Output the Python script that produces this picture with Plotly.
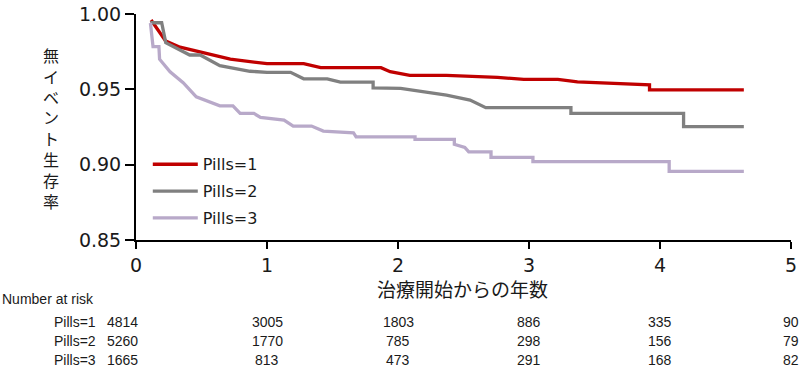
import plotly.graph_objects as go

# ---- data ----
t1 = [0.115, 0.227, 0.336, 0.49, 0.72, 1.0, 1.28, 1.41, 1.87, 1.94, 2.02, 2.09, 2.37, 2.76, 2.96, 3.22, 3.37, 3.92, 3.92, 4.64]
s1 = [0.996, 0.982, 0.978, 0.9746, 0.970, 0.967, 0.967, 0.9644, 0.9644, 0.9617, 0.9606, 0.9593, 0.9593, 0.958, 0.9566, 0.9566, 0.955, 0.953, 0.9497, 0.9497]

t2 = [0.11, 0.196, 0.227, 0.41, 0.49, 0.64, 0.87, 1.0, 1.18, 1.28, 1.46, 1.56, 1.81, 1.81, 2.02, 2.37, 2.55, 2.67, 3.32, 3.32, 4.18, 4.18, 4.64]
s2 = [0.9942, 0.9942, 0.981, 0.9728, 0.9728, 0.9657, 0.962, 0.9613, 0.9613, 0.957, 0.957, 0.9548, 0.9548, 0.951, 0.9506, 0.9462, 0.9429, 0.9378, 0.9378, 0.934, 0.934, 0.9252, 0.9252]

t3 = [0.11, 0.13, 0.175, 0.18, 0.26, 0.36, 0.46, 0.59, 0.64, 0.74, 0.795, 0.9, 0.95, 1.13, 1.2, 1.34, 1.43, 1.66, 1.68,
      2.13, 2.13, 2.43, 2.43, 2.51, 2.54, 2.71, 2.71, 3.03, 3.03, 4.07, 4.07, 4.64]
s3 = [0.994, 0.9783, 0.9783, 0.970, 0.9617, 0.9544, 0.945, 0.9407, 0.939, 0.939, 0.934, 0.934, 0.9314, 0.9296, 0.9256, 0.9256, 0.9223, 0.9212, 0.9185,
      0.9185, 0.9168, 0.9168, 0.9135, 0.9115, 0.9085, 0.9085, 0.9048, 0.9048, 0.902, 0.902, 0.8955, 0.8955]

series_names = ["Pills=1", "Pills=2", "Pills=3"]
series_colors = ["#C00000", "#808080", "#B8A9C9"]

risk_times = [0, 1, 2, 3, 4, 5]
risk_pills1 = [4814, 3005, 1803, 886, 335, 90]
risk_pills2 = [5260, 1770, 785, 298, 156, 79]
risk_pills3 = [1665, 813, 473, 291, 168, 82]

x_ticks = [0, 1, 2, 3, 4, 5]
y_ticks = [0.85, 0.90, 0.95, 1.00]
y_title = "無イベント生存率"
x_title = "治療開始からの年数"

# ---- figure ----
W, H = 800, 369
L, R, T, B = 136, 9, 14, 129
pw, ph = W - L - R, H - T - B

fig = go.Figure()
for i, (tx, sy) in enumerate([(t1, s1), (t2, s2), (t3, s3)]):
    fig.add_trace(go.Scatter(
        x=tx, y=sy, mode="lines", name=series_names[i],
        legendgroup=series_names[i],
        line=dict(color=series_colors[i], width=3.3, shape="linear"),
        hoverinfo="skip",
    ))

tick_font = dict(family="DejaVu Sans, Verdana, sans-serif", size=19, color="#1a1a1a")
fig.update_layout(
    width=W, height=H,
    margin=dict(l=L, r=R, t=T, b=B, autoexpand=False),
    plot_bgcolor="white", paper_bgcolor="white",
    showlegend=True,
    legend=dict(
        x=0.018, y=0.41, xanchor="left", yanchor="top",
        font=dict(family="DejaVu Sans, Verdana, sans-serif", size=16, color="#1a1a1a"),
        bgcolor="rgba(0,0,0,0)", itemwidth=45, tracegroupgap=3,
    ),
    xaxis=dict(
        range=[0, 5], tickvals=x_ticks, ticktext=[str(v) for v in x_ticks],
        showgrid=False, zeroline=False, showline=True, linecolor="black", linewidth=2,
        ticks="outside", ticklen=7, tickwidth=2, tickcolor="black",
        tickfont=tick_font, automargin=False,
    ),
    yaxis=dict(
        range=[0.85, 1.00], tickvals=y_ticks, ticktext=[f"{v:.2f}" for v in y_ticks],
        showgrid=False, zeroline=False, showline=True, linecolor="black", linewidth=2,
        ticks="outside", ticklen=9, tickwidth=2, tickcolor="black",
        tickfont=tick_font, automargin=False,
    ),
)

def px2py(ypix):
    return (H - B - ypix) / ph

def px2px(xpix):
    return (xpix - L) / pw

annots = []
# y title, stacked upright characters
annots.append(dict(
    text="<br>".join(list(y_title)), xref="paper", yref="paper", x=px2px(51), y=px2py(127.5),
    xanchor="center", yanchor="middle", showarrow=False,
    font=dict(family="Noto Sans CJK JP", size=16, color="#1a1a1a"),
))
# x title
annots.append(dict(
    text=x_title, xref="paper", yref="paper", x=px2px(462.5), y=px2py(288),
    xanchor="center", yanchor="middle", showarrow=False,
    font=dict(family="Noto Sans CJK JP", size=19, color="#1a1a1a"),
))
# risk table
rfont = dict(family="Liberation Sans, Arial, sans-serif", size=14, color="#1a1a1a")
annots.append(dict(
    text="Number at risk", xref="paper", yref="paper", x=px2px(0), y=px2py(299),
    xanchor="left", yanchor="middle", showarrow=False, font=rfont,
))
for name, vals, ypix in zip(series_names, [risk_pills1, risk_pills2, risk_pills3], [322, 341, 360]):
    annots.append(dict(
        text=name, xref="paper", yref="paper", x=px2px(98), y=px2py(ypix),
        xanchor="right", yanchor="middle", showarrow=False, font=rfont,
    ))
    for j, (tv, v) in enumerate(zip(risk_times, vals)):
        annots.append(dict(
            text=str(v), xref="x", yref="paper", x=tv, y=px2py(ypix),
            xanchor="center", yanchor="middle", showarrow=False, font=rfont,
            xshift=-14 if j == 0 else 0,
        ))
fig.update_layout(annotations=annots)

fig.write_html(
    "out.html",
    config={"displayModeBar": False},
    post_script="document.body.style.margin='0px';document.body.style.overflow='hidden';",
)
